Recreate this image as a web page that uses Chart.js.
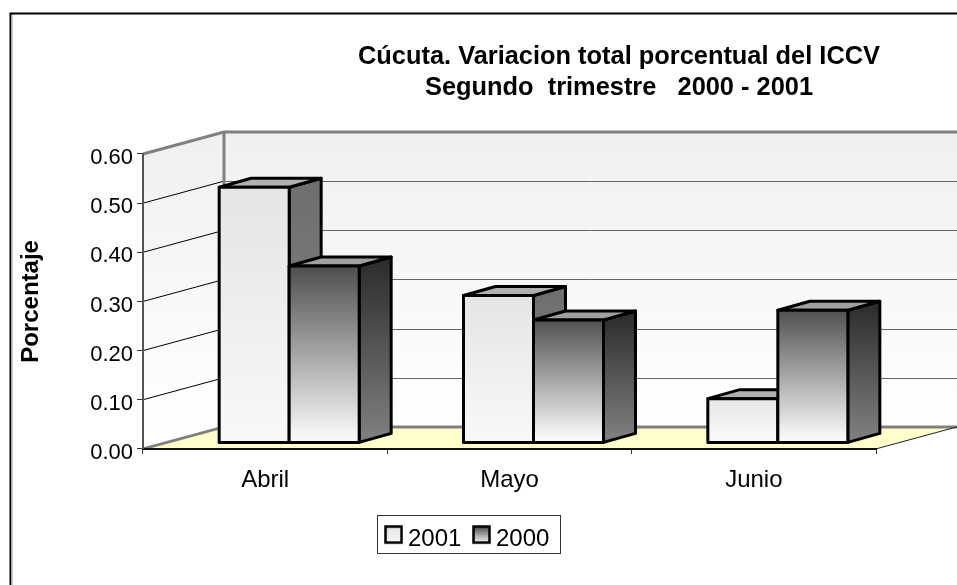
<!DOCTYPE html>
<html>
<head>
<meta charset="utf-8">
<style>html,body{margin:0;padding:0;background:#fff}#wrap{width:957px;height:585px}</style>
<script src="https://cdn.jsdelivr.net/npm/chart.js@4"></script>
</head>
<body>
<div id="wrap"><canvas id="c" width="957" height="585"></canvas></div>
<script>
const categories = ['Abril', 'Mayo', 'Junio'];
const series2001 = [0.52, 0.30, 0.09];
const series2000 = [0.36, 0.25, 0.27];
const seriesNames = ['2001', '2000'];
const titleLines = ['Cúcuta. Variacion total porcentual del ICCV', 'Segundo  trimestre   2000 - 2001'];
const yTitle = 'Porcentaje';

const FONT = '"Liberation Sans", Arial, sans-serif';
const FRONT = [['#e4e4e4', '#f8f8f8'], ['#484848', '#f8f8f8']];
const SIDE = [['#6e6e6e', '#868686'], ['#2c2c2c', '#7e7e7e']];
const TOP = ['#b0b0b0', '#a0a0a0'];
const WALL = [81, -22];     // depth of the room
const BAR_SHIFT = [24, -6]; // bars stand inside the room
const BAR_DEPTH = [32, -9];

function grad(ctx, y0, y1, stops) {
  const g = ctx.createLinearGradient(0, y0, 0, y1);
  g.addColorStop(0, stops[0]);
  g.addColorStop(1, stops[1]);
  return g;
}
function swatch(stops) {
  const cv = document.createElement('canvas');
  cv.width = 19; cv.height = 29;
  const x = cv.getContext('2d');
  x.fillStyle = grad(x, 1, 18, stops);
  x.fillRect(1, 1, 17, 17);
  x.strokeStyle = '#000';
  x.lineWidth = 2.5;
  x.strokeRect(1.5, 1.5, 16, 16);
  return cv;
}
function poly(ctx, pts, fill, stroke, lw) {
  ctx.beginPath();
  pts.forEach((p, i) => i ? ctx.lineTo(p[0], p[1]) : ctx.moveTo(p[0], p[1]));
  if (fill) { ctx.closePath(); ctx.fillStyle = fill; ctx.fill(); }
  if (stroke) { ctx.strokeStyle = stroke; ctx.lineWidth = lw; ctx.stroke(); }
}
function frontFill(i) {
  return function (c) {
    const chart = c.chart;
    const sc = chart.scales && chart.scales.y;
    if (!sc || c.parsed === undefined || c.parsed === null || c.type !== 'data') return FRONT[i][0];
    return grad(chart.ctx, sc.getPixelForValue(c.parsed.y) + BAR_SHIFT[1], sc.getPixelForValue(0) + BAR_SHIFT[1], FRONT[i]);
  };
}

const room3d = {
  id: 'room3d',
  beforeDraw(chart) {
    const { ctx, chartArea: a, scales } = chart;
    const dx = WALL[0], dy = WALL[1];
    // place title and legend
    const t = chart.titleBlock;
    const th = t.bottom - t.top;
    t.left = 358; t.right = 880; t.top = 41; t.bottom = 41 + th;
    const l = chart.legend;
    l.left = 270; l.right = 670.4; l.top = 510; l.bottom = 558;

    ctx.save();
    // outer frame (top and left only)
    poly(ctx, [[10.5, 585], [10.5, 13.5], [957, 13.5]], null, '#000', 2);
    poly(ctx, [[12, 585], [12, 15]], null, '#b8b8b8', 1.5);
    // walls
    const wg = grad(ctx, a.top + dy, a.bottom + dy, ['#f0f0f0', '#ffffff']);
    poly(ctx, [[a.left, a.bottom], [a.left + dx, a.bottom + dy], [a.left + dx, a.top + dy], [a.left, a.top]], wg);
    poly(ctx, [[a.left + dx, a.bottom + dy], [957, a.bottom + dy], [957, a.top + dy], [a.left + dx, a.top + dy]], wg);
    // floor
    poly(ctx, [[a.left, a.bottom], [a.left + dx, a.bottom + dy], [957, a.bottom + dy], [a.right, a.bottom]], '#ffffcc');
    // gridlines on walls
    scales.y.ticks.forEach(tk => {
      const y = scales.y.getPixelForValue(tk.value);
      if (tk.value > 0 && tk.value < 0.6) {
        poly(ctx, [[a.left, y], [a.left + dx, y + dy]], null, '#000', 1);
        poly(ctx, [[a.left + dx, Math.round(y + dy) + 0.5], [957, Math.round(y + dy) + 0.5]], null, '#666', 1);
      }
    });
    // room edges
    poly(ctx, [[a.left, a.top], [a.left + dx, a.top + dy], [957, a.top + dy]], null, '#808080', 3);
    poly(ctx, [[a.left + dx, a.top + dy], [a.left + dx, a.bottom + dy]], null, '#808080', 3);
    poly(ctx, [[a.left, a.bottom], [a.left + dx, a.bottom + dy], [957, a.bottom + dy]], null, '#808080', 3);
    poly(ctx, [[a.right, a.bottom], [957, a.bottom + dy]], null, '#222', 1);
    // legend frame
    ctx.strokeStyle = '#333'; ctx.lineWidth = 1;
    ctx.strokeRect(377.5, 515.5, 183, 38);
    ctx.restore();
  },
  beforeDatasetsDraw(chart) {
    const ctx = chart.ctx;
    const bx = BAR_DEPTH[0], by = BAR_DEPTH[1];
    ctx.save();
    ctx.translate(BAR_SHIFT[0], BAR_SHIFT[1]);
    ctx.lineJoin = 'round';
    [0, 1].forEach(i => {
      const meta = chart.getDatasetMeta(i);
      meta.data.forEach(el => {
        const x0 = el.x - el.width / 2, x1 = el.x + el.width / 2, y = el.y, b = el.base;
        poly(ctx, [[x1, y], [x1 + bx, y + by], [x1 + bx, b + by], [x1, b]],
          grad(ctx, y - 6, b - 6, SIDE[i]), '#000', 3);
        poly(ctx, [[x0, y], [x0 + bx, y + by], [x1 + bx, y + by], [x1, y]], TOP[i], '#000', 3);
      });
      meta.controller.draw();
      meta.data.forEach(el => {
        const x0 = el.x - el.width / 2, x1 = el.x + el.width / 2;
        poly(ctx, [[x0, el.y], [x1, el.y], [x1, el.base], [x0, el.base]], null, null);
        ctx.closePath();
        ctx.strokeStyle = '#000'; ctx.lineWidth = 3; ctx.stroke();
      });
    });
    ctx.restore();
    return false;
  }
};

new Chart(document.getElementById('c'), {
  type: 'bar',
  plugins: [room3d],
  data: {
    labels: categories,
    datasets: [
      { label: seriesNames[0], data: series2001, backgroundColor: frontFill(0) },
      { label: seriesNames[1], data: series2000, backgroundColor: frontFill(1) }
    ]
  },
  options: {
    responsive: false,
    animation: false,
    layout: { padding: { left: 10, right: 81, top: 91, bottom: 34.5 } },
    datasets: { bar: { categoryPercentage: 0.573, barPercentage: 1, borderWidth: 0 } },
    plugins: {
      tooltip: { enabled: false },
      title: {
        display: true,
        text: titleLines,
        color: '#000',
        font: { family: FONT, size: 25.4, weight: 'bold', lineHeight: 1.24 },
        padding: 0
      },
      legend: {
        display: true,
        position: 'bottom',
        onClick: null,
        labels: {
          color: '#000',
          font: { family: FONT, size: 24 },
          usePointStyle: true,
          pointStyleWidth: 5,
          padding: 17.6,
          generateLabels() {
            return seriesNames.map((n, i) => ({
              text: n, datasetIndex: i, pointStyle: swatch(FRONT[i]),
              fillStyle: FRONT[i][0], strokeStyle: '#000', lineWidth: 2.5, fontColor: '#000'
            }));
          }
        }
      }
    },
    scales: {
      x: {
        afterFit(s) { s.height = 50; },
        grid: { drawOnChartArea: false, drawTicks: true, tickLength: 5, color: '#333' },
        border: { color: '#111', width: 2 },
        ticks: { color: '#000', font: { family: FONT, size: 24 }, padding: 12, maxRotation: 0 }
      },
      y: {
        min: 0, max: 0.6,
        afterFit(s) { s.width = 133; },
        grid: { drawOnChartArea: false, drawTicks: true, tickLength: 6, color: '#333' },
        border: { color: '#555', width: 2 },
        title: {
          display: true, text: yTitle, color: '#000',
          font: { family: FONT, size: 24, weight: 'bold' },
          padding: { top: 7, bottom: 0 }
        },
        ticks: {
          stepSize: 0.1, color: '#000', padding: 4, labelOffset: 4,
          font: { family: FONT, size: 22 },
          callback: v => v.toFixed(2)
        }
      }
    }
  }
});
</script>
</body>
</html>
